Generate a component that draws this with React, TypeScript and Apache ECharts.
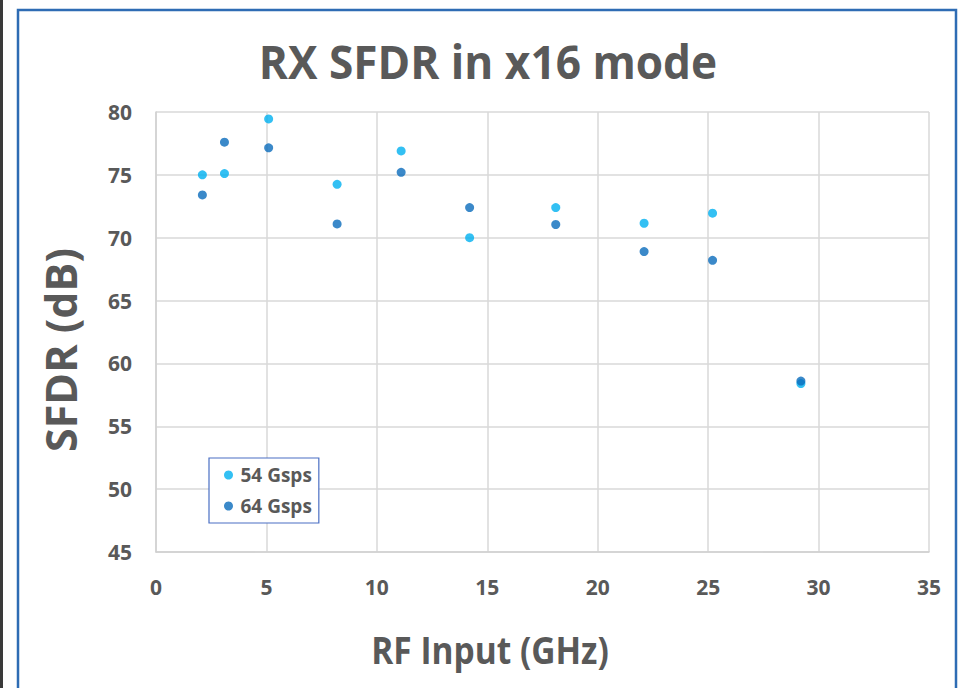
import React, { useEffect, useRef } from "react";
import * as echarts from "echarts";

const freq54: number[] = [2.1, 3.1, 5.1, 8.2, 11.1, 14.2, 18.1, 22.1, 25.2, 29.2];
const sfdr54: number[] = [75.0, 75.1, 79.45, 74.25, 76.9, 70.0, 72.4, 71.15, 71.95, 58.4];
const freq64: number[] = [2.1, 3.1, 5.1, 8.2, 11.1, 14.2, 18.1, 22.1, 25.2, 29.2];
const sfdr64: number[] = [73.4, 77.6, 77.15, 71.1, 75.2, 72.4, 71.05, 68.9, 68.2, 58.6];
const seriesNames: string[] = ["54 Gsps", "64 Gsps"];
const titleText = "RX SFDR in x16 mode";
const xTitle = "RF Input (GHz)";
const yTitle = "SFDR (dB)";

const FONT = "'Open Sans', sans-serif";
const GRAY = "#595959";

export default function App() {
  const ref = useRef<HTMLDivElement>(null);
  useEffect(() => {
    if (!ref.current) return;
    const chart = echarts.init(ref.current, null, { renderer: "svg" });
    chart.setOption({
      animation: false,
      backgroundColor: "#ffffff",
      grid: { left: 156, top: 112, width: 773, height: 440, containLabel: false },
      xAxis: {
        type: "value",
        min: 0,
        max: 35,
        interval: 5,
        axisLine: { show: true, lineStyle: { color: "#d0d0d0", width: 1.5 } },
        axisTick: { show: false },
        splitLine: { show: true, lineStyle: { color: "#d9d9d9", width: 1.5 } },
        axisLabel: { color: GRAY, fontFamily: FONT, fontWeight: "bold", fontSize: 21, margin: 24 },
      },
      yAxis: {
        type: "value",
        min: 45,
        max: 80,
        interval: 5,
        axisLine: { show: true, lineStyle: { color: "#d0d0d0", width: 1.5 } },
        axisTick: { show: false },
        splitLine: { show: true, lineStyle: { color: "#d9d9d9", width: 1.5 } },
        axisLabel: { color: GRAY, fontFamily: FONT, fontWeight: "bold", fontSize: 21, margin: 24 },
      },
      legend: {
        orient: "vertical",
        left: 209,
        top: 458,
        backgroundColor: "#ffffff",
        borderColor: "#4a6fc4",
        borderWidth: 1.2,
        borderRadius: 0,
        padding: [7, 7, 7, 15],
        itemWidth: 14,
        itemHeight: 9,
        itemGap: 11,
        textStyle: { color: GRAY, fontFamily: FONT, fontWeight: "bold", fontSize: 19, lineHeight: 20 },
        data: seriesNames,
      },
      series: [
        {
          name: seriesNames[0],
          type: "scatter",
          symbol: "circle",
          symbolSize: 9,
          itemStyle: { color: "#00b0f0" },
          data: freq54.map((x, i) => [x, sfdr54[i]]),
        },
        {
          name: seriesNames[1],
          type: "scatter",
          symbol: "circle",
          symbolSize: 9,
          itemStyle: { color: "#0a6cbc" },
          data: freq64.map((x, i) => [x, sfdr64[i]]),
        },
      ],
      graphic: [
        { type: "rect", left: 0, top: 0, shape: { width: 3, height: 688 }, style: { fill: "#3a3a3a" }, silent: true },
        {
          type: "rect",
          shape: { x: 18, y: 10, width: 938, height: 700 },
          style: { fill: "none", stroke: "#2e6cb4", lineWidth: 2.5 },
          silent: true,
        },
        {
          type: "text",
          x: 488,
          y: 60,
          scaleX: 0.94,
          style: {
            text: titleText,
            fill: GRAY,
            font: `bold 47px ${FONT}`,
            textAlign: "center",
            textVerticalAlign: "middle",
          },
        },
        {
          type: "text",
          x: 490,
          y: 649,
          scaleX: 0.905,
          style: {
            text: xTitle,
            fill: GRAY,
            font: `bold 37px ${FONT}`,
            textAlign: "center",
            textVerticalAlign: "middle",
          },
        },
        {
          type: "text",
          x: 60,
          y: 350,
          rotation: Math.PI / 2,
          style: {
            text: yTitle,
            fill: GRAY,
            font: `bold 43px ${FONT}`,
            textAlign: "center",
            textVerticalAlign: "middle",
          },
        },
      ],
    });
    return () => chart.dispose();
  }, []);
  return (
    <div
      ref={ref}
      style={{ position: "fixed", left: 0, top: 0, width: 963, height: 688 }}
    />
  );
}
